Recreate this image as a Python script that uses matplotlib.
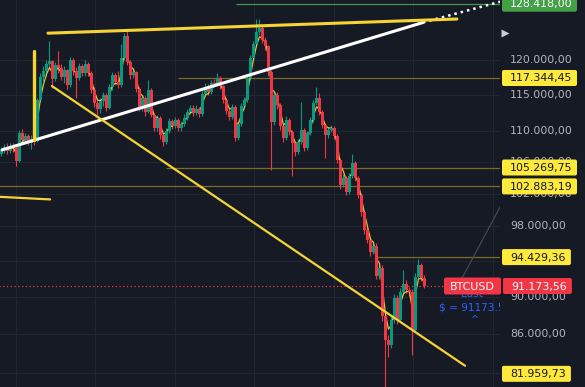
import numpy as np
import matplotlib
matplotlib.use("Agg")
import matplotlib.pyplot as plt
from matplotlib.patches import FancyBboxPatch
from matplotlib.ticker import NullLocator

# ---- BTCUSD candles (prices in thousand USD) ----
first_open = 107.0
closes = [
    107.54, 107.93, 107.41, 108.06, 107.80, 106.11, 109.78, 108.85, 109.38, 108.45,
    108.98, 108.72, 114.26, 117.49, 118.34, 119.36, 119.79, 117.20, 119.21, 118.77,
    117.49, 118.48, 116.35, 119.94, 118.34, 117.34, 119.06, 118.05, 119.36, 118.05,
    115.65, 113.84, 113.02, 114.12, 114.95, 113.15, 116.07, 117.77, 116.78, 116.35,
    120.23, 123.47, 119.65, 117.77, 118.20, 115.79, 113.15, 114.54, 112.61, 115.65,
    112.20, 110.45, 111.79, 109.51, 108.59, 110.05, 111.39, 110.72, 111.52, 110.45,
    110.98, 111.79, 112.61, 113.15, 112.47, 113.02, 112.34, 115.09, 116.07, 115.37,
    116.63, 116.49, 117.34, 116.21, 114.26, 112.75, 111.93, 113.29, 109.11, 110.98,
    113.42, 114.26, 117.34, 120.23, 122.28, 124.07, 124.68, 122.87, 121.98, 118.20,
    111.25, 114.95, 113.56, 110.72, 109.11, 111.52, 109.91, 108.45, 107.28, 108.59,
    110.18, 107.80, 109.78, 111.52, 113.84, 114.54, 112.61, 110.85, 109.51, 110.18,
    110.45, 109.38, 106.24, 103.07, 103.95, 102.20, 104.20, 105.86, 103.95, 101.83,
    99.76, 97.60, 96.43, 95.03, 95.73, 92.31, 93.21, 87.94, 85.42, 84.90,
    87.51, 89.88, 87.51, 90.54, 91.42, 90.76, 90.54, 86.46, 92.20, 93.55,
    92.09, 91.17356,
]
highs = [
    107.9, 108.3, 108.4, 108.5, 108.4, 108.0, 110.2, 110.3, 109.8, 109.6,
    109.5, 109.4, 114.5, 118.0, 119.0, 119.9, 122.7, 120.0, 119.6, 121.2,
    119.3, 119.0, 118.7, 120.4, 120.2, 118.9, 119.5, 119.4, 119.9, 119.6,
    118.4, 116.0, 114.6, 114.6, 115.4, 115.2, 116.5, 118.2, 118.1, 118.4,
    122.3, 124.0, 124.5, 120.0, 118.7, 118.4, 116.0, 114.9, 114.8, 117.0,
    115.9, 112.5, 112.2, 112.0, 109.8, 110.4, 111.8, 111.7, 111.9, 111.8,
    111.4, 112.3, 113.0, 113.6, 113.5, 113.5, 113.3, 115.5, 116.6, 116.5,
    117.0, 117.2, 118.0, 117.6, 116.4, 114.5, 113.0, 113.7, 113.5, 111.4,
    113.9, 114.7, 117.8, 120.7, 122.8, 126.0, 126.1, 125.0, 123.3, 122.2,
    118.5, 115.4, 115.3, 113.9, 111.0, 112.0, 111.8, 110.2, 108.7, 109.0,
    114.0, 110.5, 110.1, 111.9, 114.2, 116.0, 115.2, 112.9, 111.1, 110.6,
    110.9, 110.7, 109.6, 106.5, 104.4, 104.2, 104.6, 107.0, 106.1, 104.2,
    102.1, 100.0, 97.9, 96.7, 96.2, 96.0, 93.6, 93.5, 88.2, 85.9,
    87.9, 90.3, 90.2, 91.0, 93.0, 91.8, 91.1, 90.8, 92.6, 94.2,
    93.8, 92.4,
]
lows = [
    106.7, 107.2, 107.0, 107.1, 107.3, 105.5, 106.0, 108.5, 108.3, 108.2,
    107.6, 108.2, 108.6, 114.0, 116.9, 117.6, 118.9, 115.9, 116.9, 118.0,
    117.1, 116.6, 115.8, 116.0, 117.8, 114.6, 117.0, 117.6, 117.7, 117.6,
    115.2, 113.3, 112.2, 112.5, 113.4, 112.8, 113.0, 115.6, 116.3, 115.9,
    116.1, 119.9, 119.2, 117.2, 117.3, 115.3, 112.7, 112.7, 112.1, 112.4,
    111.9, 110.0, 110.1, 109.0, 108.1, 108.3, 109.8, 110.3, 110.4, 110.1,
    110.1, 110.7, 111.5, 112.3, 112.0, 112.2, 111.9, 112.1, 114.8, 115.0,
    115.1, 116.0, 116.2, 115.8, 113.9, 112.3, 111.5, 111.6, 108.7, 108.8,
    110.7, 113.0, 114.0, 117.1, 120.0, 121.9, 123.6, 122.4, 121.4, 117.6,
    104.9, 110.9, 113.0, 110.2, 108.6, 108.8, 109.5, 104.2, 106.8, 107.0,
    108.3, 107.4, 107.5, 109.5, 111.3, 113.5, 112.2, 110.4, 106.5, 109.1,
    109.9, 109.0, 105.8, 102.6, 102.8, 101.8, 101.9, 103.9, 103.5, 101.4,
    99.3, 97.1, 96.0, 94.6, 94.8, 91.9, 92.0, 87.4, 80.7, 83.6,
    84.6, 87.2, 87.1, 87.3, 90.2, 90.4, 90.1, 83.9, 86.2, 91.9,
    91.7, 90.9,
]

# price scale ticks (those covered by price tags are left out) and marked levels
tick_values = [120000, 115000, 110000, 106000, 102000, 98000, 90000, 86000]
grid_values = [120000, 115000, 110000, 106000, 102000, 98000, 94000, 90000, 86000, 82000]
level_high = 128418.00
level_117 = 117344.45
level_105 = 105269.75
level_102 = 102883.19
level_94 = 94429.36
level_low = 81959.73
last_price = 91173.56

# drawn trendlines: (bar index, price in thousand USD)
top_line = [(15.5, 123.9), (151.8, 126.05)]
rise_line = [(0.2, 107.54), (140.5, 125.52)]
rise_ext = [(140.5, 125.52), (166.2, 128.72)]
fall_line = [(16.8, 116.21), (154.5, 82.77)]
vert_line = [(11.0, 121.2), (11.0, 108.85)]
left_stub = [(-2.0, 101.62), (16.2, 101.27)]
thin_ray = [(151.2, 90.6), (166.2, 100.36)]

BG = "#161a25"
GRID = "#222632"
UP = "#089981"
DOWN = "#f23645"
YEL = "#f5d434"
LVL = "#7a6a26"
AXTXT = "#b2b5be"

W, H = 585, 387
fig = plt.figure(figsize=(W / 100, H / 100), dpi=100, facecolor=BG)
ax = fig.add_axes([0, 0, 500 / W, 1])
ax.set_facecolor(BG)
ax.set_yscale("log")
ax.set_ylim(80660, 128990)
ax.set_xlim(-0.5, 166.17)
for s in ax.spines.values():
    s.set_visible(False)
ax.xaxis.set_major_locator(NullLocator())
ax.xaxis.set_minor_locator(NullLocator())
ax.yaxis.set_major_locator(NullLocator())
ax.yaxis.set_minor_locator(NullLocator())

# grid
for v in grid_values:
    ax.axhline(v, color=GRID, lw=0.8, zorder=0)
for gx in np.arange(4.8, 166, 26.5):
    ax.axvline(gx, color=GRID, lw=0.8, zorder=0)

c = np.array(closes) * 1000
o = np.concatenate([[first_open * 1000], c[:-1]])
hi = np.array(highs) * 1000
lo = np.array(lows) * 1000
idx = np.arange(len(c))
cols = np.where(c >= o, UP, DOWN)

# level lines
xr = ax.get_xlim()[1]
ax.hlines(level_high, 78.2, xr, color="#3f9a4a", lw=0.9, zorder=1)
ax.hlines(level_117, 58.8, xr, color=LVL, lw=0.9, zorder=1)
ax.hlines(level_105, 54.8, xr, color=LVL, lw=0.9, zorder=1)
ax.hlines(level_102, -1, xr, color=LVL, lw=0.9, zorder=1)
ax.hlines(level_94, 125.2, xr, color=LVL, lw=0.9, zorder=1)
ax.hlines(last_price, -1, 147.2, color=DOWN, lw=0.9, linestyles=(0, (1, 2)), zorder=1)

# candles
ax.vlines(idx, lo, hi, colors=cols, lw=0.8, zorder=3)

# fast moving average of closes, under the candle bodies
ema = np.empty_like(c)
ema[0] = c[0]
for i in range(1, len(c)):
    ema[i] = 0.5 * c[i] + 0.5 * ema[i - 1]
ax.plot(idx, ema, color=YEL, lw=0.9, alpha=0.9, zorder=3.5)

body = np.maximum(np.abs(c - o), c * 0.0012)
ax.bar(idx, body, bottom=np.minimum(o, c), width=0.9, color=cols, lw=0, zorder=4)


def seg(pts, **kw):
    xs = [p[0] for p in pts]
    ys = [p[1] * 1000 for p in pts]
    ax.plot(xs, ys, solid_capstyle="round", **kw)


seg(thin_ray, color="#4a4d58", lw=0.8, zorder=2)
seg(rise_line, color="white", lw=2.2, zorder=6)
seg(rise_ext, color="white", lw=1.8, linestyle=(0, (1, 1.6)), zorder=6)
seg(top_line, color=YEL, lw=2.2, zorder=6)
seg(fall_line, color=YEL, lw=1.6, zorder=6)
seg(vert_line, color=YEL, lw=2.4, zorder=6)
seg(left_stub, color=YEL, lw=1.6, zorder=6)

# overlay in pixel coordinates for the price scale
ov = fig.add_axes([0, 0, 1, 1], zorder=10)
ov.set_xlim(0, W)
ov.set_ylim(H, 0)
ov.axis("off")
ov.patch.set_alpha(0)


def py(price):
    return H - ax.transData.transform((0, price))[1]


def fmt(v):
    s = f"{v:,.2f}"
    return s.replace(",", "X").replace(".", ",").replace("X", ".")


FONT = dict(fontsize=7.9, family="DejaVu Sans")

# "Last" readout, clipped at the chart pane edge
ax.text(472, py(last_price) + 8, "Last", transform=ov.transData, color="#2962ff",
        ha="center", va="center", clip_on=True, zorder=7, fontsize=7.6)
ax.text(439, py(last_price) + 21, "$ = 91173.5", transform=ov.transData, color="#2962ff",
        ha="left", va="center", clip_on=True, zorder=7, fontsize=7.6)
ax.text(475, py(last_price) + 34, "^", transform=ov.transData, color="#2962ff",
        ha="center", va="center", clip_on=True, zorder=7, fontsize=7)

for v in tick_values:
    ov.text(510, py(v), fmt(v), color=AXTXT, ha="left", va="center", **FONT)

ov.plot([505], [33], marker=">", ms=6, color="#c8cbd3", mec="none")


def tag(price, face, fg, x0=502, text=None):
    text = fmt(price) if text is None else text
    y = py(price)
    w = 14 + 6.1 * len(text)
    ov.add_patch(FancyBboxPatch((x0, y - 8), w, 16,
                                boxstyle="round,pad=0,rounding_size=2",
                                fc=face, ec="none", zorder=3))
    ov.text(x0 + 8, y + 0.5, text, color=fg, ha="left", va="center", zorder=4, **FONT)


tag(level_high, "#43a047", "white")
tag(level_117, "#ffe93b", "#131722")
tag(level_105, "#ffe93b", "#131722")
tag(level_102, "#ffe93b", "#131722")
tag(level_94, "#ffe93b", "#131722")
tag(level_low, "#ffe93b", "#131722")
tag(last_price, DOWN, "white", x0=503)
# symbol tag next to last price
yl = py(last_price)
ov.add_patch(FancyBboxPatch((444, yl - 8.5), 57, 17, boxstyle="round,pad=0,rounding_size=2",
                            fc=DOWN, ec="none", zorder=3))
ov.text(472.5, yl + 0.5, "BTCUSD", color="white", ha="center", va="center", zorder=4, **FONT)

fig.savefig("out.png", dpi=100, facecolor=BG)
